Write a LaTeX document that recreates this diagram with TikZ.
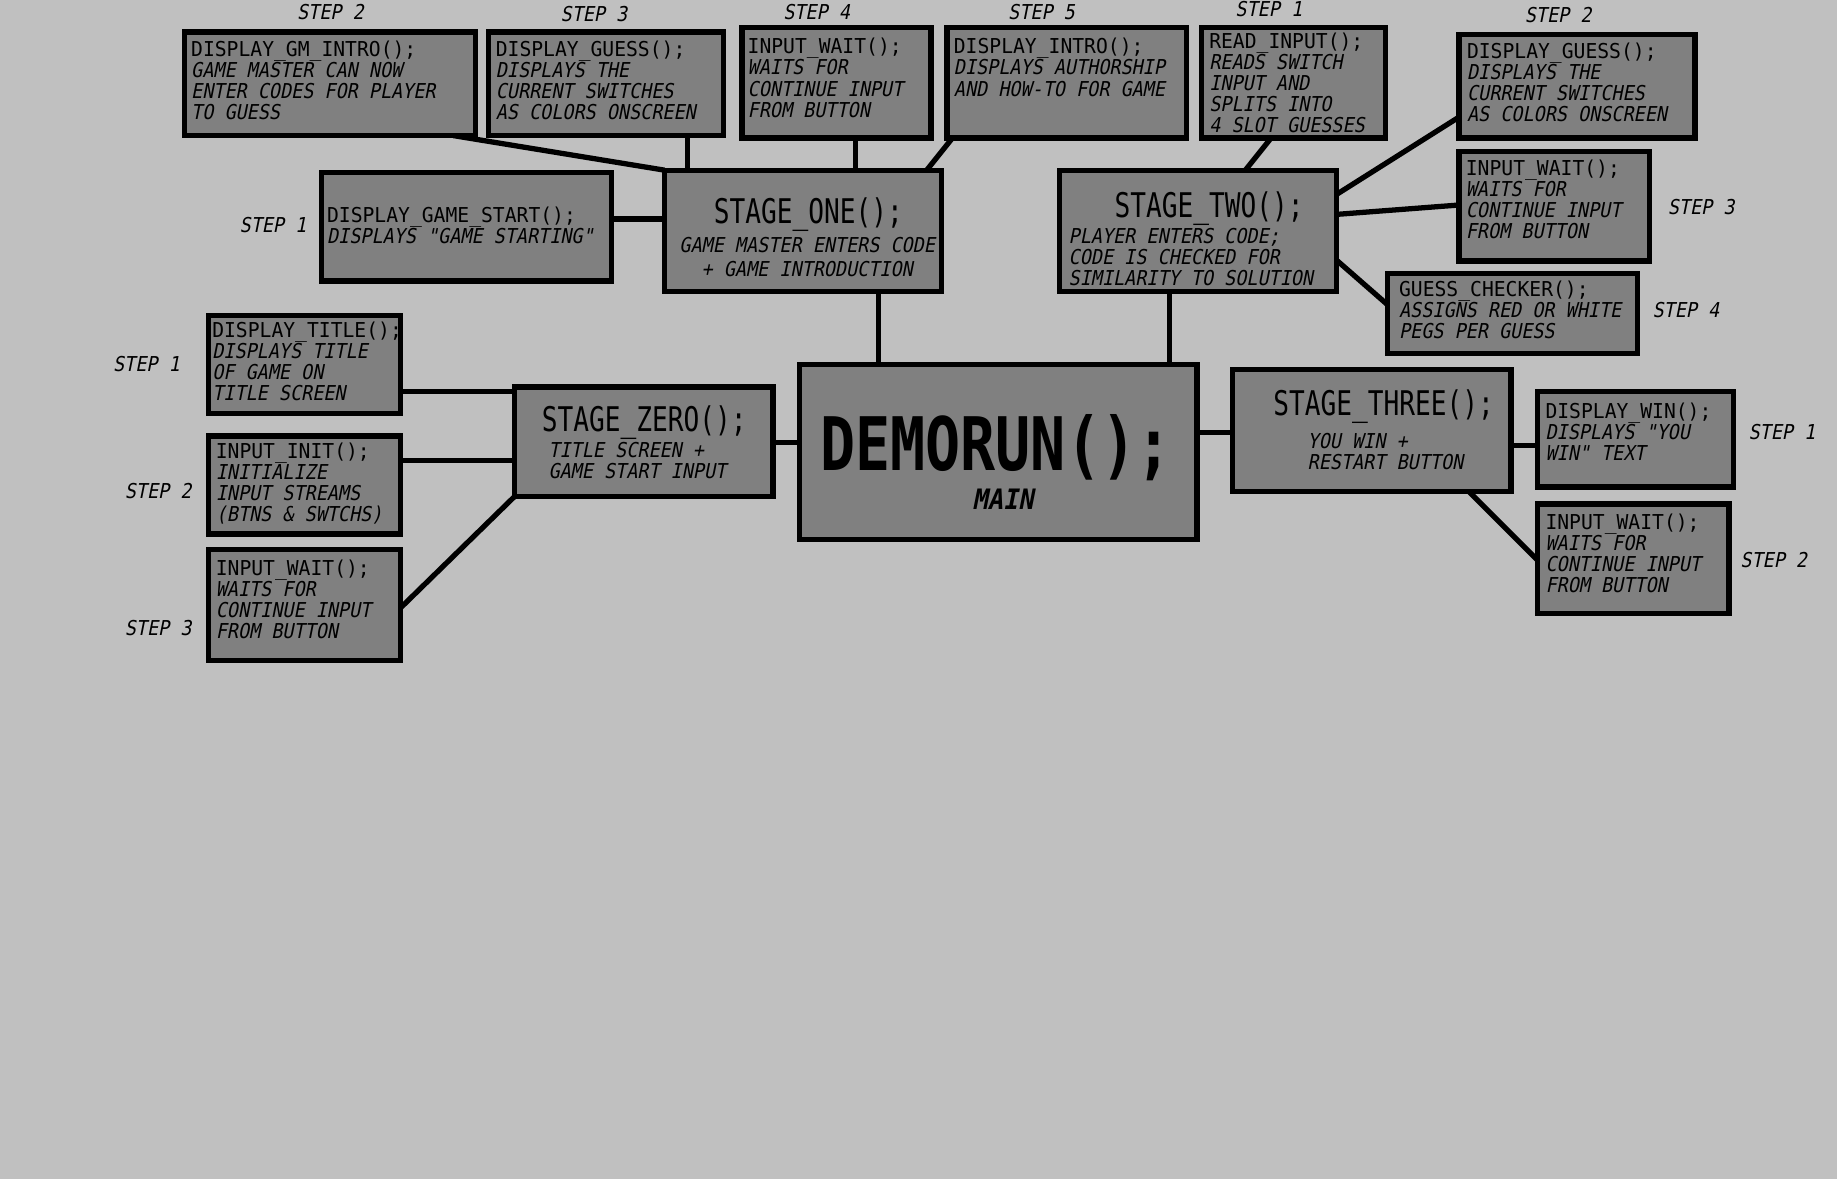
\documentclass[tikz,border=0pt]{standalone}
\usepackage{fontspec}
\newfontfamily\smfont[FakeStretch=0.96]{DejaVu Sans Mono}
\newfontfamily\itfont[FakeStretch=0.9,FakeSlant=0.2]{DejaVu Sans Mono}
\newfontfamily\ttlfont[FakeStretch=0.77]{DejaVu Sans Mono}
\newfontfamily\bigfont[FakeStretch=0.79]{DejaVu Sans Mono}
\definecolor{bggray}{HTML}{C0C0C0}
\definecolor{boxgray}{HTML}{808080}
\newcommand{\mkbox}[5]{\node[boxst, minimum width={(#4-#2-4.5)*1pt}, minimum height={(#5-#3-4.5)*1pt}] (#1) at ({(#2+#4)/2},{(#3+#5)/2}) {};}
\newcommand{\bxtext}[4]{\node[txt] (#1) at (#2,#3) {#4};}
\newcommand{\stp}[4]{\node[steplbl] (#1) at (#2,#3) {STEP #4};}
\newcommand{\il}{\\\itfont}
\begin{document}
\begin{tikzpicture}[x=1pt,y=-1pt,
  boxst/.style={rectangle, draw=black, fill=boxgray, line width=4.5pt, outer sep=0pt, inner sep=0pt},
  txt/.style={anchor=north west, inner sep=0pt, align=left, font=\smfont\fontsize{17.5}{18}\selectfont},
  steplbl/.style={inner sep=0pt, font=\itfont\fontsize{17.5}{18}\selectfont},
  ttl/.style={inner sep=0pt, font=\ttlfont\fontsize{29}{30}\selectfont},
  conn/.style={line width=4.5pt, draw=black}]
\useasboundingbox (0,0) rectangle (1568,1006);
\fill[bggray] (0,0) rectangle (1568,1006);

% boxes
\mkbox{gm}{155}{25}{408}{118}
\mkbox{gs1}{415}{25}{620}{118}
\mkbox{iw1}{631}{21}{797}{120}
\mkbox{di}{806}{21}{1015}{120}
\mkbox{ri}{1023}{21}{1185}{120}
\mkbox{gs2}{1243}{27}{1449}{120}
\mkbox{iw2}{1243}{127}{1410}{225}
\mkbox{gc}{1182}{231}{1400}{304}
\mkbox{dgs}{272}{145}{524}{242}
\mkbox{s1}{565}{143}{806}{251}
\mkbox{s2}{902}{143}{1143}{251}
\mkbox{dt}{176}{267}{344}{355}
\mkbox{ii}{176}{370}{344}{458}
\mkbox{iw0}{176}{467}{344}{566}
\mkbox{s0}{437}{328}{662}{426}
\mkbox{dm}{680}{309}{1024}{463}
\mkbox{s3}{1050}{313}{1292}{422}
\mkbox{dw}{1310}{332}{1482}{418}
\mkbox{iw3}{1310}{428}{1478}{526}

% connectors
\draw[conn] (387,0 |- gm.south) -- (s1.north west);
\draw[conn] (587,0 |- gs1.south) -- (587,0 |- s1.north);
\draw[conn] (730,0 |- iw1.south) -- (730,0 |- s1.north);
\draw[conn] (813,0 |- di.south) -- (791,0 |- s1.north);
\draw[conn] (0,187 -| dgs.east) -- (0,187 -| s1.west);
\draw[conn] (750,0 |- s1.south) -- (750,0 |- dm.north);
\draw[conn] (998,0 |- s2.south) -- (998,0 |- dm.north);
\draw[conn] (1085,0 |- ri.south) -- (1063,0 |- s2.north);
\draw[conn] (0,166 -| s2.east) -- (0,100 -| gs2.west);
\draw[conn] (0,183 -| s2.east) -- (0,175 -| iw2.west);
\draw[conn] (0,222 -| s2.east) -- (0,260 -| gc.west);
\draw[conn] (0,334 -| dt.east) -- (0,334 -| s0.west);
\draw[conn] (0,393 -| ii.east) -- (0,393 -| s0.west);
\draw[conn] (0,519 -| iw0.east) -- (s0.south west);
\draw[conn] (0,378 -| s0.east) -- (0,378 -| dm.west);
\draw[conn] (0,369 -| dm.east) -- (0,369 -| s3.west);
\draw[conn] (0,380 -| s3.east) -- (0,380 -| dw.west);
\draw[conn] (1254,0 |- s3.south) -- (0,478 -| iw3.west);

% box texts
\bxtext{gmt}{163}{34.5}{DISPLAY\_GM\_INTRO();\il GAME MASTER CAN NOW\il ENTER CODES FOR PLAYER\il TO GUESS}
\bxtext{gs1t}{423}{34.5}{DISPLAY\_GUESS();\il DISPLAYS THE\il CURRENT SWITCHES\il AS COLORS ONSCREEN}
\bxtext{iw1t}{638}{32.5}{INPUT\_WAIT();\il WAITS FOR\il CONTINUE INPUT\il FROM BUTTON}
\bxtext{dit}{814}{32.5}{DISPLAY\_INTRO();\il DISPLAYS AUTHORSHIP\il AND HOW-TO FOR GAME}
\bxtext{rit}{1032}{27.5}{READ\_INPUT();\il READS SWITCH\il INPUT AND\il SPLITS INTO\il 4 SLOT GUESSES}
\bxtext{gs2t}{1252}{36.5}{DISPLAY\_GUESS();\il DISPLAYS THE\il CURRENT SWITCHES\il AS COLORS ONSCREEN}
\bxtext{iw2t}{1251}{136.5}{INPUT\_WAIT();\il WAITS FOR\il CONTINUE INPUT\il FROM BUTTON}
\bxtext{gct}{1194}{239.5}{GUESS\_CHECKER();\il ASSIGNS RED OR WHITE\il PEGS PER GUESS}
\bxtext{dgst}{279}{176.5}{DISPLAY\_GAME\_START();\il DISPLAYS "GAME STARTING"}
\bxtext{dtt}{181}{274.5}{DISPLAY\_TITLE();\il DISPLAYS TITLE\il OF GAME ON\il TITLE SCREEN}
\bxtext{iit}{184}{377.5}{INPUT\_INIT();\il INITIALIZE\il INPUT STREAMS\il (BTNS \& SWTCHS)}
\bxtext{iw0t}{184}{477.5}{INPUT\_WAIT();\il WAITS FOR\il CONTINUE INPUT\il FROM BUTTON}
\bxtext{dwt}{1319}{343.5}{DISPLAY\_WIN();\il DISPLAYS "YOU\il WIN" TEXT}
\bxtext{iw3t}{1319}{438.5}{INPUT\_WAIT();\il WAITS FOR\il CONTINUE INPUT\il FROM BUTTON}

% stage titles
\node[ttl] (s1h) at (690,183) {STAGE\_ONE();};
\node[txt, anchor=north, align=center, font=\itfont\fontsize{17.5}{20}\selectfont] (s1d) at (689,202.5) {GAME MASTER ENTERS CODE\\\itfont + GAME INTRODUCTION};
\node[ttl] (s2h) at (1032,178) {STAGE\_TWO();};
\node[txt, font=\itfont\fontsize{17.5}{18}\selectfont] (s2d) at (912,194.5) {PLAYER ENTERS CODE;\il CODE IS CHECKED FOR\il SIMILARITY TO SOLUTION};
\node[ttl] (s0h) at (550,361) {STAGE\_ZERO();};
\node[txt, font=\itfont\fontsize{17.5}{18}\selectfont] (s0d) at (468,377.5) {TITLE SCREEN +\il GAME START INPUT};
\node[ttl] (s3h) at (1181,347) {STAGE\_THREE();};
\node[txt, font=\itfont\fontsize{17.5}{18}\selectfont] (s3d) at (1116,369.5) {YOU WIN +\il RESTART BUTTON};
\node[inner sep=0pt, font=\bigfont\bfseries\fontsize{63}{64}\selectfont] (dmh) at (850,382) {DEMORUN();};
\node[inner sep=0pt, font=\itfont\bfseries\fontsize{24}{25}\selectfont] (dmd) at (856,426) {MAIN};

% step labels
\stp{l1}{282}{10}{2}
\stp{l2}{507}{12}{3}
\stp{l3}{697}{10}{4}
\stp{l4}{889}{10}{5}
\stp{l5}{1083}{8}{1}
\stp{l6}{1330}{13}{2}
\stp{l7}{1452}{177}{3}
\stp{l8}{1439}{265}{4}
\stp{l9}{233}{192}{1}
\stp{l10}{125}{311}{1}
\stp{l11}{135}{419}{2}
\stp{l12}{135}{536}{3}
\stp{l13}{1521}{369}{1}
\stp{l14}{1514}{478}{2}
\end{tikzpicture}
\end{document}
